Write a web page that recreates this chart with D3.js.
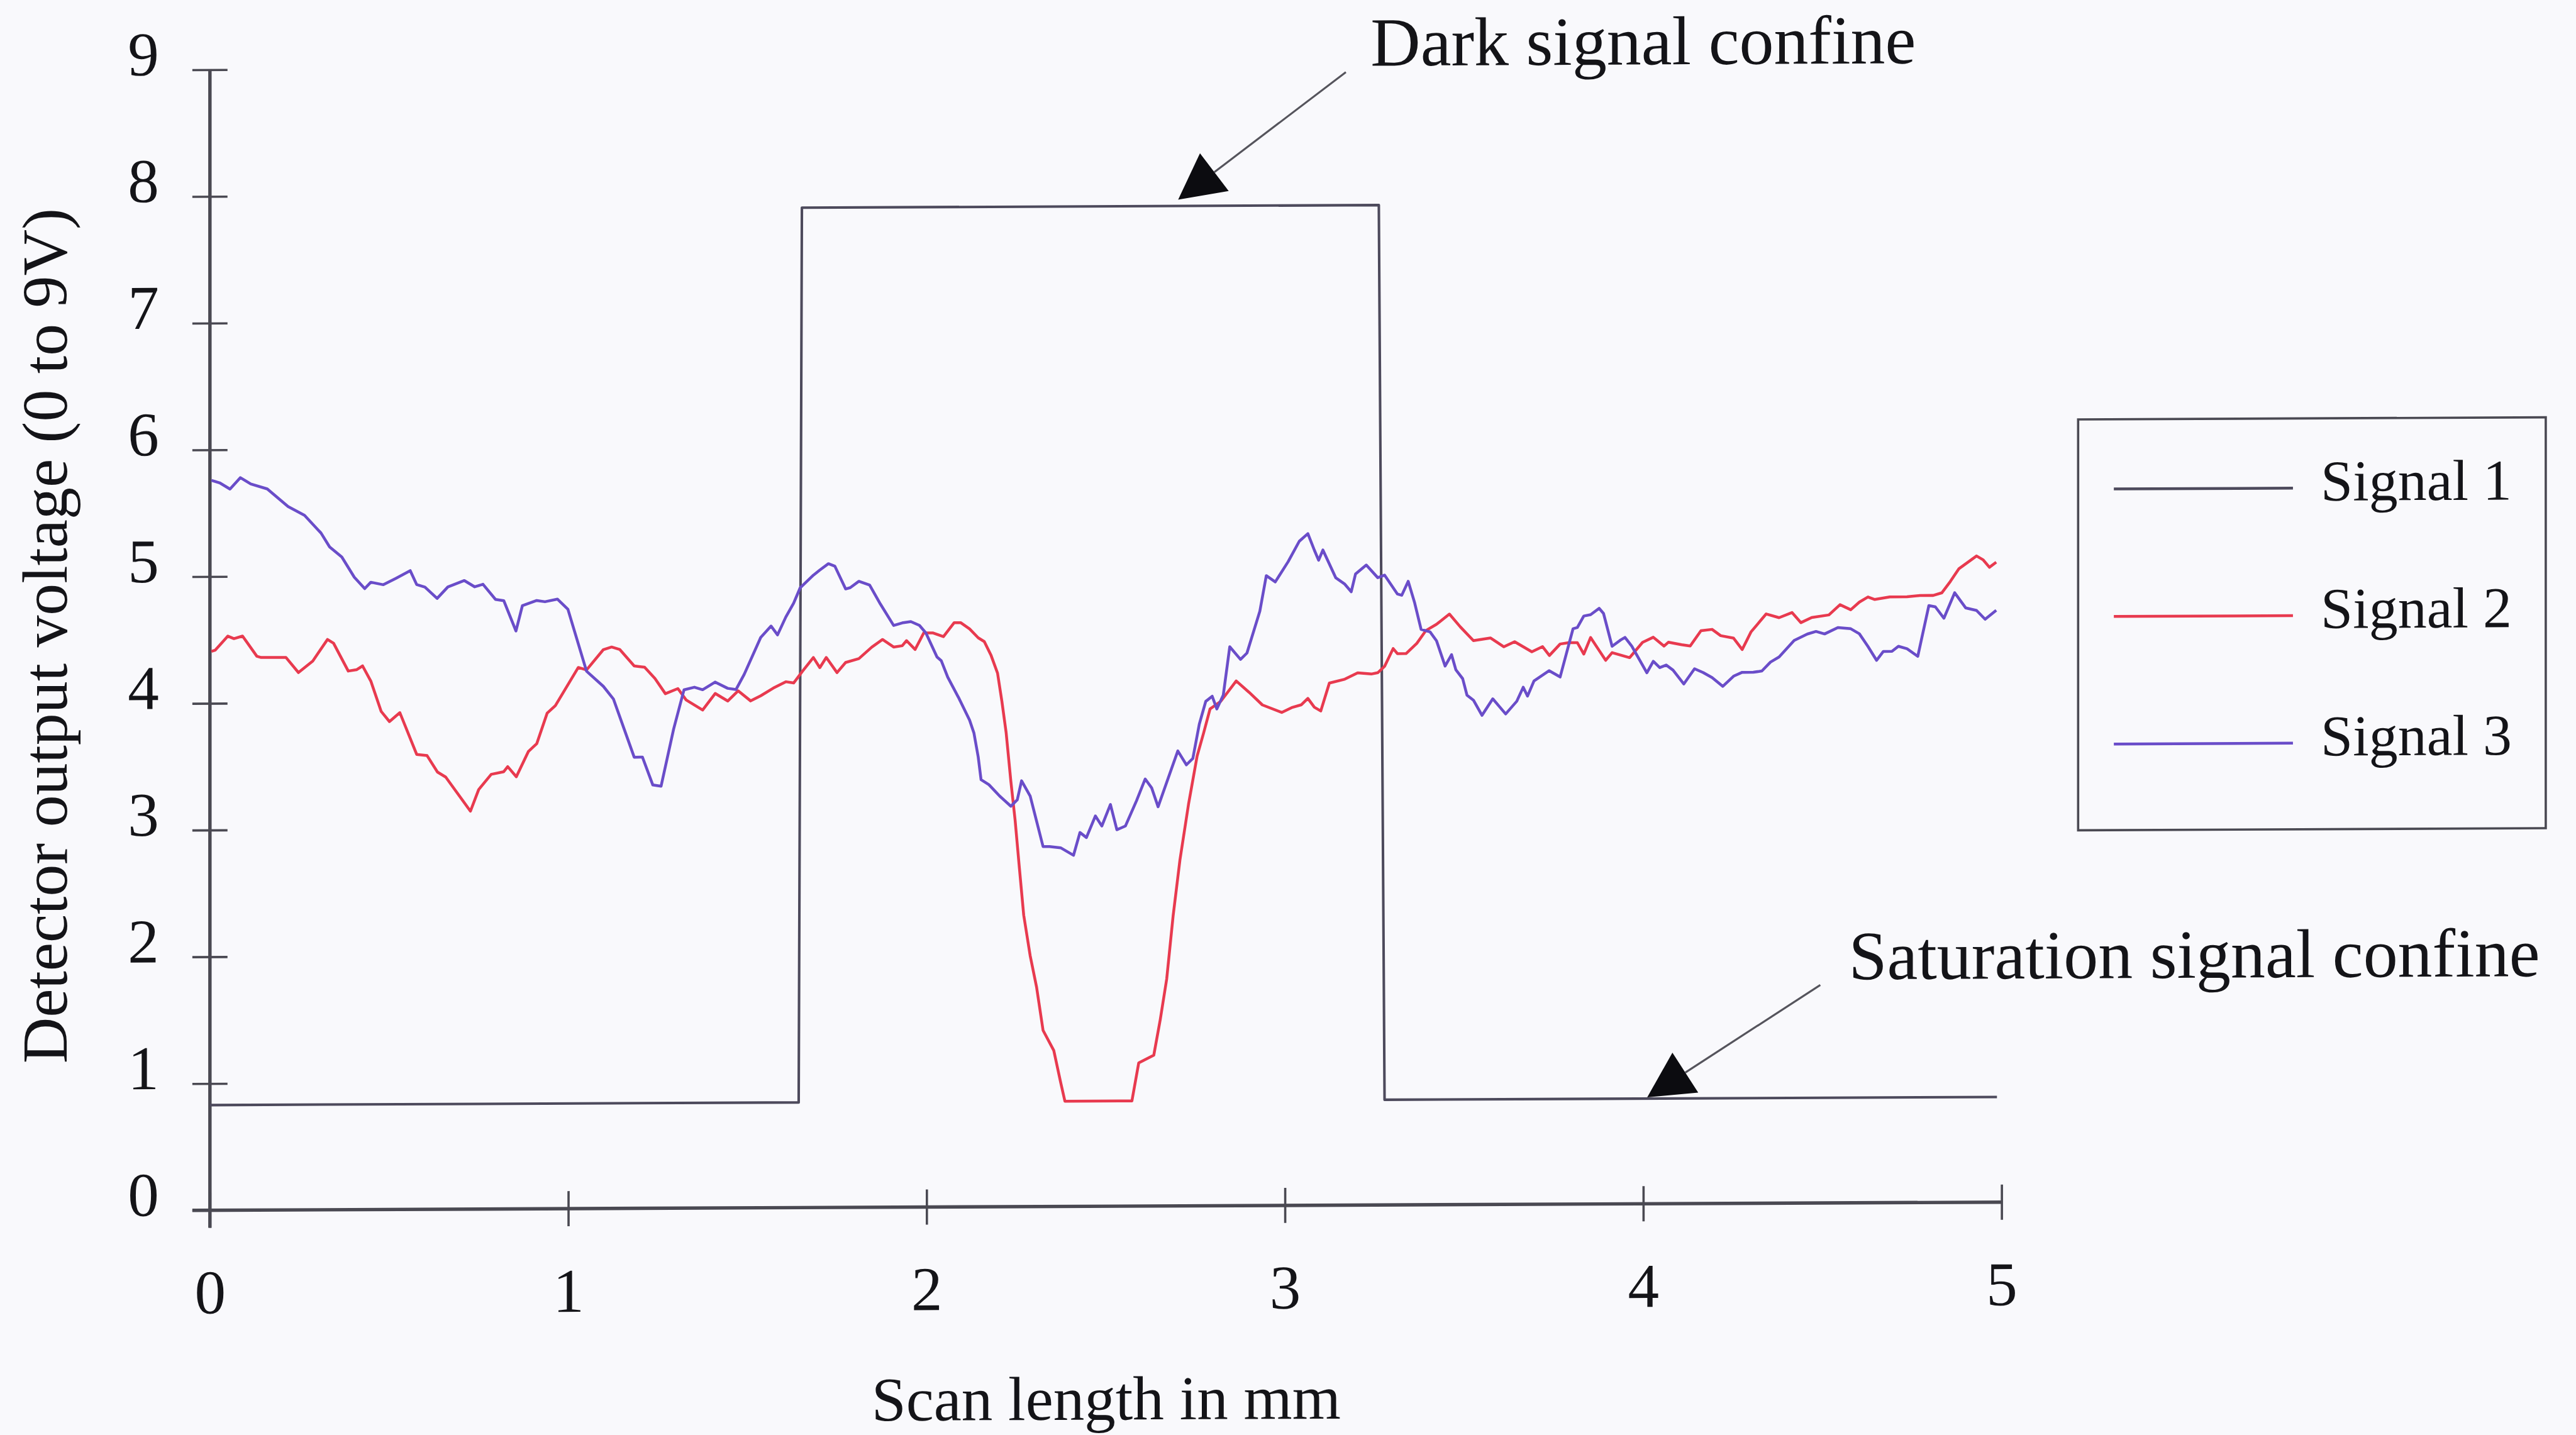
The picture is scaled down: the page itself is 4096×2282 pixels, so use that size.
<!DOCTYPE html>
<html>
<head>
<meta charset="utf-8">
<script src="https://cdn.jsdelivr.net/npm/d3@7"></script>
<style>
  html, body { margin: 0; padding: 0; background: #f9f9fc; overflow: hidden; }
  svg { display: block; }
</style>
</head>
<body>
<svg id="chart" width="4096" height="2282" viewBox="0 0 4544 2532"></svg>
<script>
// ---- data -------------------------------------------------------------
const xTicks = [0, 1, 2, 3, 4, 5];
const yTicks = [0, 1, 2, 3, 4, 5, 6, 7, 8, 9];
const seriesNames = ["Signal 1", "Signal 2", "Signal 3"];
const xTitle = "Scan length in mm";
const yTitle = "Detector output voltage (0 to 9V)";

// Signal 1: dark / saturation confine (step)
const signal1 = [[0, 0.83], [1.643, 0.83], [1.652, 7.89], [3.262, 7.89], [3.278, 0.83], [4.987, 0.83]];

// Signal 2 (scan trace, mm vs V)
const signal2 = [
  [0.004,4.41],[0.015,4.42],[0.050,4.53],[0.067,4.51],[0.091,4.53],[0.131,4.37],[0.143,4.36],[0.183,4.36],
  [0.212,4.36],[0.247,4.24],[0.287,4.33],[0.328,4.50],[0.345,4.47],[0.386,4.25],[0.409,4.26],[0.426,4.29],
  [0.449,4.17],[0.478,3.93],[0.501,3.85],[0.530,3.92],[0.577,3.59],[0.606,3.58],[0.635,3.45],[0.658,3.41],
  [0.727,3.14],[0.750,3.31],[0.785,3.43],[0.820,3.45],[0.831,3.49],[0.855,3.41],[0.889,3.61],[0.912,3.67],
  [0.941,3.91],[0.964,3.97],[1.028,4.27],[1.051,4.25],[1.098,4.41],[1.121,4.43],[1.144,4.41],[1.184,4.28],
  [1.213,4.27],[1.242,4.18],[1.271,4.06],[1.306,4.10],[1.329,4.01],[1.375,3.93],[1.410,4.06],[1.445,4.00],
  [1.474,4.08],[1.509,4.00],[1.537,4.04],[1.572,4.10],[1.607,4.15],[1.629,4.14],[1.653,4.23],[1.684,4.34],
  [1.702,4.26],[1.720,4.34],[1.750,4.22],[1.774,4.30],[1.811,4.33],[1.847,4.42],[1.877,4.48],[1.908,4.42],
  [1.932,4.43],[1.944,4.47],[1.968,4.40],[1.992,4.53],[2.017,4.53],[2.047,4.50],[2.077,4.61],[2.095,4.61],
  [2.120,4.56],[2.144,4.49],[2.161,4.46],[2.180,4.35],[2.198,4.21],[2.210,3.99],[2.222,3.74],[2.235,3.36],
  [2.247,3.05],[2.259,2.67],[2.271,2.30],[2.289,1.98],[2.307,1.73],[2.325,1.39],[2.355,1.23],[2.374,0.98],
  [2.386,0.83],[2.573,0.83],[2.592,1.13],[2.634,1.19],[2.652,1.47],[2.670,1.79],[2.688,2.29],[2.707,2.73],
  [2.731,3.17],[2.755,3.55],[2.773,3.73],[2.791,3.92],[2.821,3.98],[2.864,4.14],[2.900,4.05],[2.937,3.95],
  [2.991,3.89],[3.021,3.93],[3.046,3.95],[3.064,4.00],[3.082,3.93],[3.100,3.90],[3.124,4.12],[3.167,4.15],
  [3.203,4.20],[3.241,4.19],[3.259,4.20],[3.278,4.25],[3.302,4.39],[3.314,4.35],[3.338,4.35],[3.368,4.43],
  [3.393,4.53],[3.423,4.58],[3.459,4.66],[3.489,4.56],[3.526,4.45],[3.574,4.47],[3.611,4.40],[3.641,4.44],
  [3.689,4.36],[3.719,4.40],[3.738,4.33],[3.768,4.42],[3.792,4.43],[3.816,4.43],[3.834,4.34],[3.853,4.47],
  [3.895,4.29],[3.913,4.35],[3.962,4.31],[3.998,4.43],[4.028,4.47],[4.058,4.40],[4.070,4.43],[4.107,4.41],
  [4.131,4.40],[4.161,4.52],[4.192,4.53],[4.216,4.48],[4.252,4.46],[4.276,4.37],[4.301,4.51],[4.343,4.65],
  [4.379,4.62],[4.415,4.66],[4.440,4.58],[4.470,4.62],[4.518,4.64],[4.549,4.72],[4.579,4.68],[4.603,4.74],
  [4.627,4.78],[4.646,4.76],[4.688,4.78],[4.736,4.78],[4.772,4.79],[4.809,4.79],[4.833,4.81],[4.857,4.90],
  [4.881,5.00],[4.930,5.10],[4.948,5.07],[4.966,5.01],[4.985,5.05]
];

// Signal 3 (scan trace, mm vs V)
const signal3 = [
  [0.004,5.76],[0.027,5.74],[0.056,5.69],[0.085,5.78],[0.114,5.73],[0.160,5.69],[0.218,5.55],[0.264,5.48],
  [0.310,5.34],[0.334,5.23],[0.368,5.15],[0.403,4.99],[0.432,4.90],[0.449,4.95],[0.484,4.93],[0.519,4.98],
  [0.559,5.04],[0.577,4.93],[0.600,4.91],[0.634,4.82],[0.664,4.91],[0.710,4.96],[0.739,4.91],[0.762,4.93],
  [0.797,4.81],[0.820,4.80],[0.854,4.56],[0.872,4.76],[0.912,4.80],[0.935,4.79],[0.970,4.81],[0.999,4.73],
  [1.051,4.24],[1.098,4.12],[1.126,4.02],[1.184,3.56],[1.207,3.56],[1.236,3.34],[1.259,3.33],[1.294,3.78],
  [1.323,4.09],[1.352,4.11],[1.375,4.09],[1.410,4.15],[1.445,4.10],[1.468,4.09],[1.491,4.21],[1.537,4.50],
  [1.566,4.59],[1.584,4.52],[1.607,4.66],[1.629,4.77],[1.647,4.89],[1.684,4.99],[1.702,5.03],[1.726,5.08],
  [1.744,5.06],[1.774,4.88],[1.787,4.89],[1.811,4.94],[1.841,4.91],[1.871,4.76],[1.908,4.59],[1.932,4.61],
  [1.956,4.62],[1.980,4.59],[1.998,4.53],[2.029,4.34],[2.041,4.31],[2.059,4.18],[2.089,4.02],[2.120,3.84],
  [2.132,3.74],[2.144,3.55],[2.152,3.37],[2.174,3.33],[2.204,3.24],[2.235,3.16],[2.253,3.21],[2.265,3.36],
  [2.289,3.24],[2.325,2.84],[2.343,2.84],[2.374,2.83],[2.410,2.77],[2.428,2.95],[2.446,2.91],[2.471,3.08],
  [2.489,3.00],[2.513,3.17],[2.531,2.97],[2.555,3.00],[2.586,3.20],[2.610,3.37],[2.628,3.30],[2.646,3.15],
  [2.676,3.39],[2.701,3.59],[2.725,3.48],[2.743,3.53],[2.761,3.80],[2.779,3.98],[2.797,4.02],[2.810,3.92],
  [2.828,4.03],[2.846,4.41],[2.876,4.31],[2.894,4.36],[2.930,4.69],[2.948,4.97],[2.973,4.92],[3.009,5.08],
  [3.040,5.24],[3.064,5.30],[3.082,5.17],[3.094,5.09],[3.106,5.17],[3.142,4.95],[3.167,4.90],[3.185,4.84],
  [3.197,4.98],[3.227,5.05],[3.259,4.95],[3.278,4.97],[3.314,4.82],[3.326,4.81],[3.344,4.92],[3.362,4.75],
  [3.380,4.54],[3.405,4.52],[3.423,4.45],[3.447,4.25],[3.465,4.34],[3.477,4.22],[3.496,4.15],[3.508,4.02],
  [3.526,3.98],[3.550,3.86],[3.580,3.99],[3.616,3.87],[3.647,3.97],[3.665,4.08],[3.677,4.01],[3.695,4.13],
  [3.737,4.21],[3.768,4.16],[3.804,4.54],[3.816,4.55],[3.834,4.64],[3.853,4.65],[3.877,4.70],[3.889,4.66],
  [3.913,4.40],[3.937,4.45],[3.949,4.47],[3.968,4.40],[4.010,4.19],[4.028,4.28],[4.046,4.23],[4.064,4.25],
  [4.083,4.21],[4.113,4.10],[4.143,4.22],[4.167,4.19],[4.192,4.15],[4.222,4.08],[4.252,4.16],[4.276,4.19],
  [4.307,4.19],[4.331,4.20],[4.355,4.27],[4.379,4.31],[4.421,4.44],[4.458,4.49],[4.482,4.51],[4.506,4.49],
  [4.543,4.54],[4.579,4.53],[4.603,4.49],[4.627,4.39],[4.651,4.28],[4.670,4.35],[4.694,4.35],[4.712,4.39],
  [4.736,4.37],[4.766,4.31],[4.797,4.71],[4.815,4.70],[4.839,4.61],[4.869,4.81],[4.900,4.69],[4.930,4.67],
  [4.954,4.60],[4.985,4.67]
];

// ---- layout -----------------------------------------------------------
const FONT = "'Liberation Serif', 'Times New Roman', Times, serif";
const INK = "#141418";
const AXIS = "#4a4952";
const seriesColors = ["#4d4a5c", "#e83a4f", "#6a4dc9"];
const series = [signal1, signal2, signal3];

// callout texts with their arrow (positions in axis units)
const callouts = [
  { text: "Dark signal confine",       tx: 3.239, ty: 8.99,  fx: 3.170, fy: 8.94, px: 2.702, py: 7.94 },
  { text: "Saturation signal confine", tx: 4.573, ty: 1.764, fx: 4.494, fy: 1.72, px: 4.011, py: 0.84 }
];

const x = d3.scaleLinear().domain([0, 5]).range([370, 3531]);
const y = d3.scaleLinear().domain([0, 9]).range([2135.5, 123]);
const TICK = 31;

const svg = d3.select("#chart");
svg.append("rect").attr("width", 4544).attr("height", 2532).attr("fill", "#f9f9fc");

// the printed figure sits very slightly tilted
const g = svg.append("g")
  .attr("transform", `translate(${x(0)},${y(0)}) skewY(-0.26) translate(${-x(0)},${-y(0)})`);

// ---- axes -------------------------------------------------------------
const yAxis = g.append("g")
  .attr("transform", `translate(${x(0)},0)`)
  .call(d3.axisLeft(y).tickValues(yTicks).tickSizeInner(TICK).tickSizeOuter(0).tickFormat(d3.format("d")));
yAxis.select(".domain").remove();
yAxis.selectAll(".tick line").attr("x1", -TICK).attr("x2", TICK).attr("stroke", AXIS).attr("stroke-width", 4);
yAxis.selectAll(".tick text")
  .attr("x", -90).attr("dy", null).attr("y", 9)
  .attr("font-family", FONT).attr("font-size", 110).attr("fill", INK).attr("text-anchor", "end");
yAxis.attr("font-family", null).attr("font-size", null);
g.append("line")
  .attr("x1", x(0)).attr("x2", x(0)).attr("y1", y(9)).attr("y2", y(0) + TICK)
  .attr("stroke", AXIS).attr("stroke-width", 6);

const xAxis = g.append("g")
  .attr("transform", `translate(0,${y(0)})`)
  .call(d3.axisBottom(x).tickValues(xTicks).tickSizeInner(TICK).tickSizeOuter(0).tickFormat(d3.format("d")));
xAxis.select(".domain").remove();
xAxis.selectAll(".tick line").attr("y1", -TICK).attr("y2", TICK).attr("stroke", AXIS).attr("stroke-width", 4);
xAxis.selectAll(".tick text")
  .attr("y", 182).attr("dy", null)
  .attr("font-family", FONT).attr("font-size", 110).attr("fill", INK);
xAxis.attr("font-family", null).attr("font-size", null);
g.append("line")
  .attr("x1", x(0) - TICK).attr("x2", x(5)).attr("y1", y(0)).attr("y2", y(0))
  .attr("stroke", AXIS).attr("stroke-width", 6);

// axis titles
g.append("text")
  .attr("x", 1951).attr("y", 2512)
  .attr("text-anchor", "middle").attr("font-family", FONT).attr("font-size", 110).attr("fill", INK)
  .text(xTitle);
svg.append("text")
  .attr("transform", "translate(117,1122) rotate(-90)")
  .attr("text-anchor", "middle").attr("font-family", FONT).attr("font-size", 113).attr("fill", INK)
  .text(yTitle);

// ---- signal traces ----------------------------------------------------
const line = d3.line().x(d => x(d[0])).y(d => y(d[1]));
g.selectAll("path.signal")
  .data(series)
  .join("path")
  .attr("class", "signal")
  .attr("d", line)
  .attr("fill", "none")
  .attr("stroke", (d, i) => seriesColors[i])
  .attr("stroke-width", (d, i) => i === 0 ? 4.5 : 5)
  .attr("stroke-linejoin", "round");

// ---- callouts ---------------------------------------------------------
const HEAD_LEN = 80, HEAD_HALF = 42;
callouts.forEach(c => {
  const x0 = x(c.fx), y0 = y(c.fy), x1 = x(c.px), y1 = y(c.py);
  const dx = x1 - x0, dy = y1 - y0, len = Math.hypot(dx, dy);
  const ux = dx / len, uy = dy / len;
  const bx = x1 - ux * HEAD_LEN, by = y1 - uy * HEAD_LEN;
  g.append("line")
    .attr("x1", x0).attr("y1", y0).attr("x2", bx).attr("y2", by)
    .attr("stroke", "#55545c").attr("stroke-width", 3.5);
  g.append("path")
    .attr("d", `M${x1},${y1}L${bx - uy * HEAD_HALF},${by + ux * HEAD_HALF}L${bx + uy * HEAD_HALF},${by - ux * HEAD_HALF}Z`)
    .attr("fill", "#0c0c10");
  g.append("text")
    .attr("x", x(c.tx)).attr("y", y(c.ty))
    .attr("font-family", FONT).attr("font-size", 122).attr("fill", INK)
    .text(c.text);
});

// ---- legend -----------------------------------------------------------
const legend = g.append("g").attr("transform", "translate(3666,755)");
legend.append("rect")
  .attr("width", 825).attr("height", 725)
  .attr("fill", "none").attr("stroke", AXIS).attr("stroke-width", 4);
const rows = legend.selectAll("g.row")
  .data(seriesNames)
  .join("g")
  .attr("class", "row")
  .attr("transform", (d, i) => `translate(0,${123 + i * 225})`);
rows.append("line")
  .attr("x1", 63).attr("x2", 379).attr("y1", 0).attr("y2", 0)
  .attr("stroke", (d, i) => seriesColors[i]).attr("stroke-width", 5);
rows.append("text")
  .attr("x", 428).attr("y", 22)
  .attr("font-family", FONT).attr("font-size", 102).attr("fill", INK)
  .text(d => d);
</script>
</body>
</html>
